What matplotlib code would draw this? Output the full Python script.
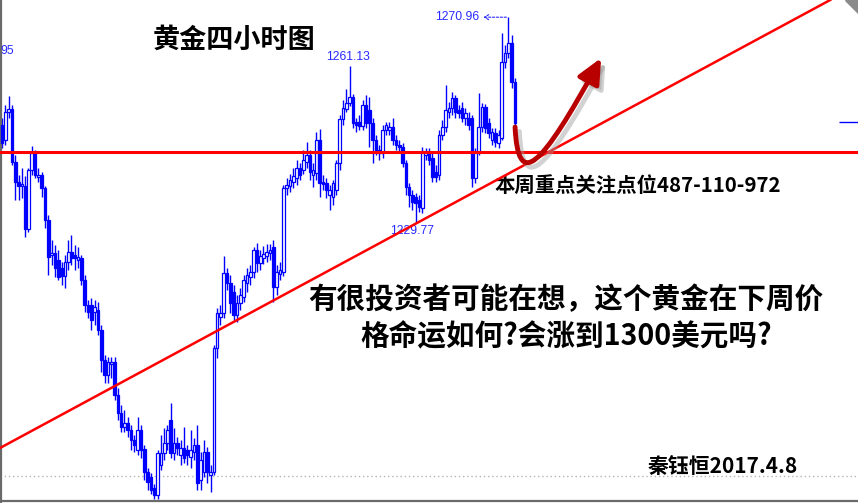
import matplotlib
matplotlib.use("Agg")
import matplotlib.pyplot as plt
from matplotlib.patches import Rectangle, FancyArrowPatch, Polygon
from matplotlib.path import Path

plt.rcParams['font.family'] = ['Noto Sans CJK SC', 'DejaVu Sans']

# 4H gold candles (O/H/L/C)
opens = [1249.4, 1246.4, 1252.0, 1252.6, 1242.0, 1238.0, 1237.2, 1237.2, 1228.6, 1240.4,
         1243.8, 1239.0, 1239.4, 1236.8, 1230.4, 1223.4, 1223.8, 1222.4, 1220.8, 1219.2,
         1222.0, 1224.0, 1223.4, 1222.4, 1222.8, 1218.4, 1213.4, 1213.4, 1212.0, 1212.4,
         1208.4, 1202.4, 1199.4, 1201.6, 1202.0, 1195.4, 1191.8, 1189.0, 1189.8, 1188.4,
         1186.4, 1184.4, 1188.4, 1184.6, 1180.0, 1179.0, 1176.8, 1175.4, 1181.4, 1183.8,
         1185.8, 1190.4, 1183.8, 1185.8, 1183.4, 1184.8, 1184.4, 1183.0, 1184.0, 1185.4,
         1178.4, 1180.0, 1184.0, 1179.4, 1180.0, 1204.8, 1211.0, 1211.8, 1219.8, 1217.8,
         1216.0, 1211.4, 1213.8, 1215.0, 1217.8, 1219.0, 1220.0, 1224.4, 1221.8, 1222.8,
         1223.2, 1223.8, 1225.0, 1217.0, 1219.6, 1220.0, 1236.8, 1237.2, 1238.0, 1238.8,
         1240.8, 1240.4, 1242.0, 1243.4, 1239.4, 1239.8, 1246.4, 1238.0, 1237.8, 1235.4,
         1235.0, 1236.4, 1241.8, 1250.6, 1252.6, 1253.8, 1255.0, 1250.0, 1250.0, 1249.2,
         1253.4, 1252.4, 1249.8, 1246.4, 1244.4, 1243.8, 1248.4, 1248.4, 1249.0, 1246.4,
         1245.4, 1245.0, 1241.8, 1237.0, 1235.4, 1235.0, 1234.4, 1232.8, 1243.4, 1244.0,
         1242.8, 1240.0, 1239.4, 1247.4, 1249.0, 1252.0, 1252.8, 1254.8, 1252.4, 1252.8,
         1250.8, 1250.8, 1250.8, 1238.8, 1244.0, 1249.0, 1253.0, 1249.8, 1246.4, 1247.8,
         1245.8, 1246.8, 1262.0, 1263.8, 1265.8, 1258.0]
highs = [1250.8, 1253.4, 1255.2, 1253.4, 1243.4, 1239.4, 1240.8, 1239.2, 1240.8, 1245.2,
         1244.4, 1240.8, 1240.0, 1237.2, 1231.4, 1226.4, 1225.4, 1224.4, 1222.0, 1223.4,
         1226.4, 1227.4, 1225.4, 1225.0, 1223.4, 1219.4, 1214.4, 1214.8, 1214.4, 1214.0,
         1209.4, 1203.4, 1203.0, 1203.0, 1203.0, 1196.8, 1193.4, 1192.4, 1191.0, 1189.4,
         1187.4, 1191.0, 1189.4, 1185.4, 1180.8, 1179.8, 1177.6, 1184.4, 1187.4, 1188.8,
         1189.4, 1193.8, 1188.8, 1187.0, 1186.4, 1189.0, 1185.4, 1188.4, 1186.8, 1189.4,
         1184.0, 1186.4, 1185.0, 1181.4, 1205.4, 1212.8, 1213.4, 1223.2, 1220.8, 1219.4,
         1217.4, 1215.4, 1216.8, 1219.4, 1220.8, 1221.4, 1225.0, 1225.8, 1224.4, 1225.2,
         1225.6, 1225.6, 1226.4, 1221.4, 1222.0, 1237.4, 1238.8, 1239.6, 1240.8, 1242.4,
         1241.8, 1244.4, 1246.0, 1244.4, 1241.8, 1248.0, 1248.6, 1239.4, 1238.8, 1237.4,
         1238.4, 1242.4, 1251.4, 1254.4, 1256.6, 1261.13, 1255.6, 1250.8, 1251.4, 1254.4,
         1255.4, 1255.0, 1250.8, 1247.4, 1245.4, 1249.4, 1250.0, 1250.0, 1250.8, 1247.4,
         1246.4, 1245.8, 1242.4, 1237.8, 1236.4, 1235.8, 1235.4, 1245.0, 1244.8, 1244.8,
         1244.0, 1241.4, 1248.4, 1250.4, 1257.4, 1254.0, 1256.0, 1255.4, 1253.4, 1254.0,
         1252.8, 1252.0, 1251.4, 1244.8, 1255.8, 1253.8, 1253.6, 1250.8, 1248.8, 1248.8,
         1248.4, 1267.8, 1265.4, 1270.96, 1267.4, 1258.8]
lows = [1244.8, 1245.4, 1250.8, 1241.4, 1234.4, 1234.4, 1234.8, 1227.0, 1228.0, 1239.4,
        1238.8, 1238.0, 1235.0, 1228.8, 1219.4, 1221.4, 1219.0, 1218.4, 1217.4, 1216.8,
        1220.4, 1221.4, 1220.4, 1220.8, 1217.4, 1212.0, 1210.8, 1208.4, 1209.4, 1207.4,
        1200.0, 1197.8, 1197.8, 1198.8, 1194.4, 1190.4, 1188.0, 1188.0, 1187.0, 1184.4,
        1184.0, 1183.4, 1182.8, 1178.4, 1176.4, 1175.6, 1174.6, 1174.6, 1180.4, 1182.4,
        1184.4, 1182.8, 1182.4, 1183.4, 1181.4, 1181.8, 1181.4, 1180.8, 1182.4, 1176.4,
        1176.4, 1179.0, 1177.8, 1176.0, 1179.4, 1202.8, 1209.4, 1210.8, 1216.4, 1211.8,
        1210.4, 1210.0, 1212.4, 1214.0, 1216.0, 1217.4, 1218.8, 1220.0, 1220.4, 1221.6,
        1222.0, 1222.4, 1214.0, 1215.4, 1218.4, 1219.2, 1235.4, 1236.0, 1236.8, 1237.4,
        1238.4, 1239.6, 1240.8, 1238.4, 1237.0, 1238.4, 1235.0, 1236.4, 1234.8, 1232.4,
        1233.4, 1235.4, 1240.4, 1249.4, 1252.0, 1253.2, 1248.8, 1248.0, 1248.4, 1248.4,
        1248.8, 1245.0, 1241.8, 1243.4, 1242.4, 1242.8, 1247.4, 1247.4, 1245.4, 1244.4,
        1244.0, 1241.0, 1235.4, 1233.0, 1232.4, 1229.77, 1232.0, 1231.8, 1242.4, 1241.4,
        1238.0, 1238.0, 1238.4, 1246.4, 1248.0, 1250.8, 1251.4, 1250.8, 1250.8, 1250.0,
        1249.4, 1248.4, 1237.0, 1237.8, 1243.4, 1248.0, 1247.8, 1246.8, 1245.4, 1245.0,
        1244.8, 1246.4, 1260.8, 1262.8, 1256.8, 1246.4]
closes = [1245.8, 1252.0, 1252.6, 1242.0, 1238.0, 1237.2, 1237.6, 1228.6, 1240.4, 1243.8,
          1239.4, 1239.4, 1236.8, 1230.4, 1223.0, 1223.8, 1220.8, 1219.0, 1219.2, 1222.0,
          1224.0, 1222.8, 1222.8, 1223.0, 1218.4, 1213.4, 1212.0, 1210.4, 1213.0, 1208.4,
          1202.4, 1199.4, 1202.0, 1202.0, 1195.4, 1191.8, 1189.0, 1189.8, 1188.4, 1186.4,
          1185.4, 1188.4, 1184.4, 1180.0, 1178.0, 1176.4, 1175.4, 1183.8, 1183.8, 1185.8,
          1188.4, 1183.8, 1185.8, 1184.8, 1184.8, 1182.8, 1183.4, 1184.4, 1185.4, 1177.8,
          1182.4, 1184.0, 1180.0, 1180.0, 1204.8, 1211.8, 1211.8, 1219.8, 1217.8, 1213.8,
          1211.4, 1213.8, 1215.4, 1218.4, 1219.4, 1220.0, 1224.4, 1221.8, 1223.2, 1223.6,
          1224.0, 1224.4, 1217.0, 1220.0, 1220.4, 1236.8, 1237.4, 1238.4, 1239.2, 1240.8,
          1239.4, 1242.4, 1243.4, 1240.0, 1240.4, 1246.4, 1237.8, 1237.6, 1236.4, 1236.4,
          1237.8, 1241.8, 1250.6, 1252.8, 1253.8, 1255.0, 1249.8, 1249.4, 1249.2, 1253.4,
          1249.8, 1249.8, 1246.4, 1244.4, 1243.8, 1248.4, 1249.4, 1249.0, 1246.4, 1245.4,
          1245.0, 1241.8, 1237.0, 1235.4, 1234.0, 1233.8, 1233.0, 1244.0, 1244.0, 1242.4,
          1239.0, 1239.0, 1247.4, 1249.0, 1252.4, 1252.8, 1254.8, 1252.0, 1251.8, 1250.8,
          1251.8, 1249.4, 1238.8, 1244.0, 1249.0, 1253.0, 1248.8, 1247.8, 1248.0, 1246.0,
          1247.4, 1262.0, 1263.8, 1265.8, 1258.0, 1249.8]

# marked extremes (bar index, price)
top_bar, top_price = 153, 1270.96
peak_bar, peak_price = 105, 1261.13
low_bar, low_price = 125, 1229.77
edge_label = '95'

# drawn levels
support = 1244.0
old_low = 1179.2
last_price = 1250.0
trend_x = [-0.6, 250.2]
trend_y = [1184.8, 1274.4]

blue = '#0000ff'

fig = plt.figure(figsize=(8.58, 5.03), dpi=100)
ax = fig.add_axes([0, 0, 1, 1])
ax.set_xlim(-0.6, 258.6)
ax.set_ylim(1173.8, 1274.4)
ax.axis('off')

# candles: hollow = up, filled = down
for i in range(len(opens)):
    o, h, l, c = opens[i], highs[i], lows[i], closes[i]
    ax.vlines(i, l, h, color=blue, lw=1.0, zorder=2)
    face = 'white' if c >= o else blue
    ax.add_patch(Rectangle((i - 0.4, min(o, c)), 0.8, abs(c - o),
                           facecolor=face, edgecolor=blue, lw=0.9, zorder=3))

# levels and trendline
ax.axhline(support, color='red', lw=2.2, zorder=4)
ax.axhline(old_low, color='#b4b4b4', lw=1, linestyle=(0, (1, 2)), zorder=1)
ax.axline((trend_x[0], trend_y[0]), (trend_x[1], trend_y[1]), color='red', lw=1.8, zorder=4)
ax.hlines(last_price, 252.9, 259, color=blue, lw=1)

# high/low labels
lab = dict(color='#2a2aff', fontsize=8.8, family='Liberation Sans')
ax.text(144.2, top_price, '%.2f' % top_price, ha='right', va='center', **lab)
ax.annotate('', xy=(144.6, top_price), xytext=(top_bar + 0.2, top_price),
            arrowprops=dict(arrowstyle='->,head_length=0.3,head_width=0.18',
                            color='#2a2aff', lw=0.8, linestyle=(0, (2, 1.5))))
ax.text(peak_bar - 0.5, peak_price + 0.7, '%.2f' % peak_price, ha='center', va='bottom', **lab)
ax.text(low_bar - 1, low_price - 0.4, '%.2f' % low_price, ha='center', va='top', **lab)
ax.text(-0.4, 1264.2, edge_label, ha='left', va='center', **lab)

# forecast arrow with a soft shadow
curve = [(155.0, 1249.0), (155.9, 1236.4), (162.5, 1240.4), (181.0, 1262.8)]
codes = [Path.MOVETO, Path.CURVE4, Path.CURVE4, Path.CURVE4]
shade = [(x + 1.3, y - 0.9) for x, y in curve]
head = '-|>,head_length=15,head_width=7'
ax.add_patch(FancyArrowPatch(path=Path(shade, codes), arrowstyle=head,
                             mutation_scale=1, color='#9c9c9c', alpha=0.45, lw=3.5, zorder=5))
ax.add_patch(FancyArrowPatch(path=Path(curve, codes), arrowstyle=head,
                             mutation_scale=1, color='#b80000', lw=3.5, zorder=6))

# captions
ax.text(0.2727, 0.9205, '黄金四小时图', transform=ax.transAxes, ha='center', va='center',
        fontsize=19.5, fontweight='bold', color='black')
ax.text(0.5758, 0.6322, '本周重点关注点位487-110-972', transform=ax.transAxes, ha='left',
        va='center', fontsize=14.7, fontweight='bold', color='black')
ax.text(0.6597, 0.4056, '有很投资者可能在想，这个黄金在下周价', transform=ax.transAxes,
        ha='center', va='center', fontsize=20.6, fontweight='bold', color='black')
ax.text(0.6597, 0.332, '格命运如何?会涨到1300美元吗?', transform=ax.transAxes,
        ha='center', va='center', fontsize=20.6, fontweight='bold', color='black')
ax.text(0.7552, 0.0716, '秦钰恒2017.4.8', transform=ax.transAxes, ha='left', va='center',
        fontsize=15.0, fontweight='bold', color='black')

# window frame
ax.plot([0.001, 0.001], [0, 1], transform=ax.transAxes, color='#6a6a6a', lw=1.6, clip_on=False)
ax.plot([0, 1], [0.004, 0.004], transform=ax.transAxes, color='#6a6a6a', lw=1.6, clip_on=False)
ax.add_patch(Polygon([(0.985, 1), (1, 1), (1, 0.974)], closed=True, transform=ax.transAxes,
                     color='#8a8a8a', clip_on=False))

fig.savefig('out.png', dpi=100)
